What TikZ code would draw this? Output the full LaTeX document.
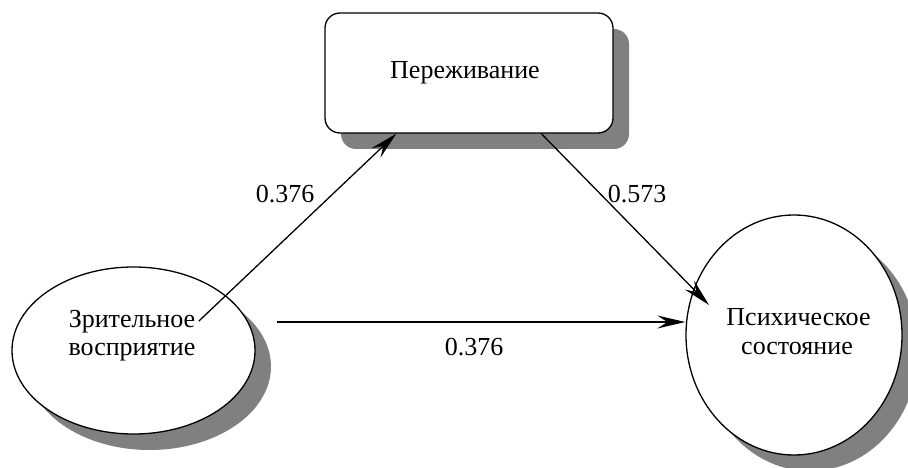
\documentclass[tikz,border=0pt]{standalone}
\usepackage{fontspec}
\setmainfont{Liberation Serif}
\usetikzlibrary{arrows.meta,shapes.geometric,shadows,calc}
\definecolor{shadowgray}{RGB}{128,128,128}
\begin{document}
\begin{tikzpicture}[x=1pt,y=-1pt,
  shp/.style={draw=black, fill=white, line width=1.3pt, inner sep=0pt,
    drop shadow={shadow xshift=16pt, shadow yshift=-16pt, fill=shadowgray, opacity=1}},
  txt/.style={font=\fontsize{26}{29}\selectfont, anchor=base},
  arr/.style={line width=1.3pt, -{Stealth[length=28pt,width=13pt,inset=10pt]}}]
\useasboundingbox (0,0) rectangle (908,468);
\fill[white] (0,0) rectangle (908,468);
% shapes
\node[shp, rectangle, rounded corners=15pt, minimum width=288pt, minimum height=120pt] (box) at (469,73) {};
\node[shp, ellipse, minimum width=243pt, minimum height=167pt] (vis) at (133.5,350.5) {};
\node[shp, ellipse, minimum width=216pt, minimum height=240pt] (psy) at (794,335) {};
% texts
\node[txt] (tb) at (465,79) {Переживание};
\node[txt] (z1) at (132,327) {Зрительное};
\node[txt] (z2) at (132,355) {восприятие};
\node[txt] (p1) at (798.5,325) {Психическое};
\node[txt] (p2) at (797,354) {состояние};
\node[txt] (l1) at (285,202) {0.376};
\node[txt] (l2) at (637,202) {0.573};
\node[txt] (l3) at (474,355) {0.376};
% connectors
\coordinate (a2end) at (709,305);
\coordinate (hs) at (277,322);
\draw[arr] (z1.east) -- ($(box.south west)+(72,0)$);
\draw[arr] ($(box.south west)+(217,0)$) -- (a2end);
\draw[arr] (hs) -- (hs -| psy.west);
\end{tikzpicture}
\end{document}
